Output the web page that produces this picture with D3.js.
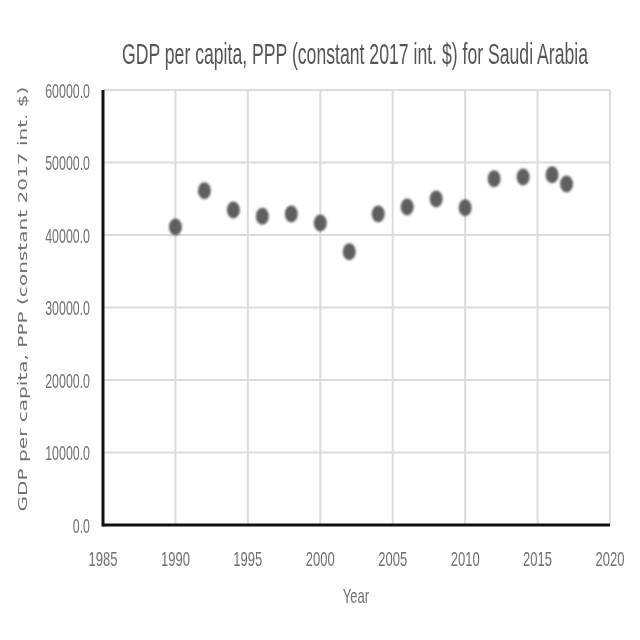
<!DOCTYPE html>
<html><head><meta charset="utf-8">
<script src="https://cdn.jsdelivr.net/npm/d3@7"></script>
<style>body{margin:0;background:#fff}</style>
</head><body>
<svg id="c" width="640" height="640"></svg>
<script>
const years = [1990,1992,1994,1996,1998,2000,2002,2004,2006,2008,2010,2012,2014,2016,2017];
const gdp = [41100,46100,43450,42600,42900,41650,37700,42900,43850,44950,43750,47750,48000,48300,47050];
const xTicks = [1985,1990,1995,2000,2005,2010,2015,2020];
const yTicks = [0,10000,20000,30000,40000,50000,60000];

const svg = d3.select("#c");
const m = {l:103, r:610, t:90, b:525};
const x = d3.scaleLinear().domain([1985,2020]).range([m.l,m.r]);
const y = d3.scaleLinear().domain([0,60000]).range([m.b,m.t]);

const defs = svg.append("defs");
defs.append("filter").attr("id","blur").attr("x","-50%").attr("y","-50%").attr("width","200%").attr("height","200%")
  .append("feGaussianBlur").attr("stdDeviation",1.2);
defs.append("filter").attr("id","tblur")
  .append("feGaussianBlur").attr("stdDeviation",0.4);

// gridlines
svg.append("g").selectAll("line").data(yTicks.slice(1)).join("line")
  .attr("x1",m.l).attr("x2",m.r).attr("y1",d=>y(d)).attr("y2",d=>y(d))
  .attr("stroke","#dcdcdc").attr("stroke-width",2);
svg.append("g").selectAll("line").data(xTicks.slice(1)).join("line")
  .attr("x1",d=>x(d)).attr("x2",d=>x(d)).attr("y1",m.t).attr("y2",m.b)
  .attr("stroke","#dcdcdc").attr("stroke-width",2);

// axes lines
svg.append("line").attr("x1",m.l).attr("x2",m.l).attr("y1",m.t).attr("y2",m.b+1.5).attr("stroke","#111").attr("stroke-width",3);
svg.append("line").attr("x1",m.l).attr("x2",m.r).attr("y1",m.b).attr("y2",m.b).attr("stroke","#111").attr("stroke-width",3);

const fontTick = "'Liberation Sans',Arial,sans-serif";
const sx = 0.62;
// y tick labels
svg.append("g").selectAll("text").data(yTicks).join("text")
  .attr("transform",d=>`translate(90,${y(d)+7.5}) scale(${sx},1)`).attr("text-anchor","end")
  .attr("fill","#707070").attr("font-family",fontTick).attr("font-size",20)
  .attr("filter","url(#tblur)")
  .text(d=>d3.format(".1f")(d));
// x tick labels
svg.append("g").selectAll("text").data(xTicks).join("text")
  .attr("transform",d=>`translate(${x(d)},566) scale(${sx},1)`).attr("text-anchor","middle")
  .attr("fill","#707070").attr("font-family",fontTick).attr("font-size",21)
  .attr("filter","url(#tblur)")
  .text(d=>d);

// title (condensed horizontally to fit the reference width)
const title = svg.append("text").attr("text-anchor","middle")
  .attr("fill","#555").attr("font-family",fontTick).attr("font-size",29)
  .attr("filter","url(#tblur)")
  .text("GDP per capita, PPP (constant 2017 int. $) for Saudi Arabia");
const tw = title.node().getComputedTextLength();
title.attr("transform",`translate(355,64) scale(${466/tw},1)`);

// x title
svg.append("text").attr("transform","translate(356,603) scale(0.62,1)").attr("text-anchor","middle")
  .attr("fill","#707070").attr("font-family",fontTick).attr("font-size",21)
  .attr("filter","url(#tblur)")
  .text("Year");
// y title
const yt = svg.append("text").attr("text-anchor","middle")
  .attr("fill","#707070").attr("font-family","'DejaVu Sans',sans-serif").attr("font-size",13)
  .attr("filter","url(#tblur)")
  .text("GDP per capita,  PPP (constant 2017 int. $)");
const yw = yt.node().getComputedTextLength();
yt.attr("transform",`translate(27,299) rotate(-90) scale(${425/yw},1)`);

// points
svg.append("g").selectAll("ellipse").data(years.map((d,i)=>({yr:d,v:gdp[i]}))).join("ellipse")
  .attr("cx",d=>x(d.yr)).attr("cy",d=>y(d.v)).attr("rx",6.5).attr("ry",8.5)
  .attr("fill","#5f5f5f").attr("filter","url(#blur)");
</script>
</body></html>
